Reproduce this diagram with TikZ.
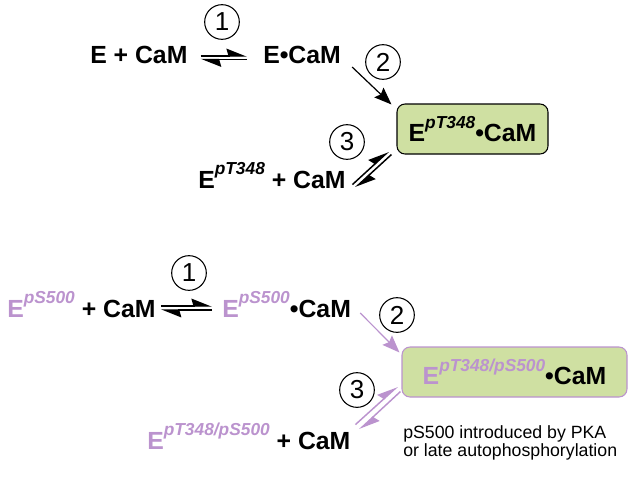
\documentclass[tikz,border=0pt]{standalone}
\usepackage{fontspec}
\setmainfont{Liberation Sans}
\usetikzlibrary{arrows.meta}
\definecolor{pLilac}{HTML}{BB93CE}
\definecolor{cGreen}{HTML}{CFE0A2}

% phospho-site superscript
\newcommand{\site}[1]{\raisebox{0.55em}{\fontsize{13}{13}\selectfont\bfseries\itshape #1}}

\tikzset{
  species/.style={anchor=base west, inner sep=0pt, font=\fontsize{18.6}{20}\selectfont\bfseries},
  stepnum/.style={draw, circle, line width=0.8pt, minimum size=26pt, inner sep=0pt, font=\fontsize{19.5}{19.5}\selectfont},
  complexbox/.style={draw, line width=0.8pt, rounded corners=6pt, fill=cGreen, minimum height=37.5pt,
    inner sep=0pt, font=\fontsize{18.6}{20}\selectfont\bfseries},
  fwd/.style={-{Stealth[left, length=14pt, width=11pt, inset=1.5pt]}, line width=1.1pt},
  bind/.style={-{Stealth[length=13pt, width=10pt, inset=2pt]}, line width=0.9pt}
}

\begin{document}
\begin{tikzpicture}[x=0.75pt, y=-0.75pt]
  \useasboundingbox (0,0) rectangle (629,483);

  % --- E without pS500 ---
  \node[species] (free1) at (90,63) {E + CaM};
  \node[species] (cplx1) at (263,63) {E\textbullet CaM};
  \node[complexbox, minimum width=113.25pt] (box1) at (472.5,129) {E\site{pT348}\textbullet CaM};
  \node[species] (free3) at (198,188) {E\site{pT348} + CaM};
  \foreach \n/\x/\y in {1/222/22, 2/383/62, 3/347/142}
    \node[stepnum] (topstep\n) at (\x,\y) {\n};

  \draw[fwd] ([shift={(13,-7)}]free1.base east) -- ([shift={(-16,-7)}]cplx1.base west);
  \draw[fwd] ([shift={(-16,-3.5)}]cplx1.base west) -- ([shift={(13,-3.5)}]free1.base east);
  \draw[bind] ([shift={(11,4)}]cplx1.base east) -- ([shift={(-5,1)}]box1.north west);
  \draw[fwd] ([shift={(-44,30)}]box1.south west) -- ([shift={(-8,-3)}]box1.south west);
  \draw[fwd] ([shift={(-5,0)}]box1.south west) -- ([shift={(-41,33)}]box1.south west);

  % --- E with pS500 ---
  \node[species] (free4) at (7,317) {\textcolor{pLilac}{E\site{pS500}} + CaM};
  \node[species] (cplx4) at (222,317) {\textcolor{pLilac}{E\site{pS500}}\textbullet CaM};
  \node[complexbox, draw=pLilac, minimum width=168.75pt] (box4) at (514.5,372)
    {\textcolor{pLilac}{E\site{pT348/pS500}}\textbullet CaM};
  \node[species] (free5) at (147,449) {\textcolor{pLilac}{E\site{pT348/pS500}} + CaM};
  \foreach \n/\x/\y in {1/189/273, 2/397/315, 3/357/390}
    \node[stepnum] (botstep\n) at (\x,\y) {\n};

  \draw[fwd] ([shift={(5,-11)}]free4.base east) -- ([shift={(-10,-11)}]cplx4.base west);
  \draw[fwd] ([shift={(-10,-7)}]cplx4.base west) -- ([shift={(5,-7)}]free4.base east);
  \draw[bind, pLilac] ([shift={(9,-4)}]cplx4.base east) -- ([shift={(-2,6)}]box4.north west);
  \draw[fwd, pLilac] ([shift={(-46,27)}]box4.south west) -- ([shift={(-4,-11)}]box4.south west);
  \draw[fwd, pLilac] ([shift={(-1,-6)}]box4.south west) -- ([shift={(-42,32)}]box4.south west);

  \node[anchor=base west, inner sep=0pt, align=left, font=\fontsize{13.3}{12.8}\selectfont] (note) at (403,456)
    {pS500 introduced by PKA\\or late autophosphorylation};
\end{tikzpicture}
\end{document}
